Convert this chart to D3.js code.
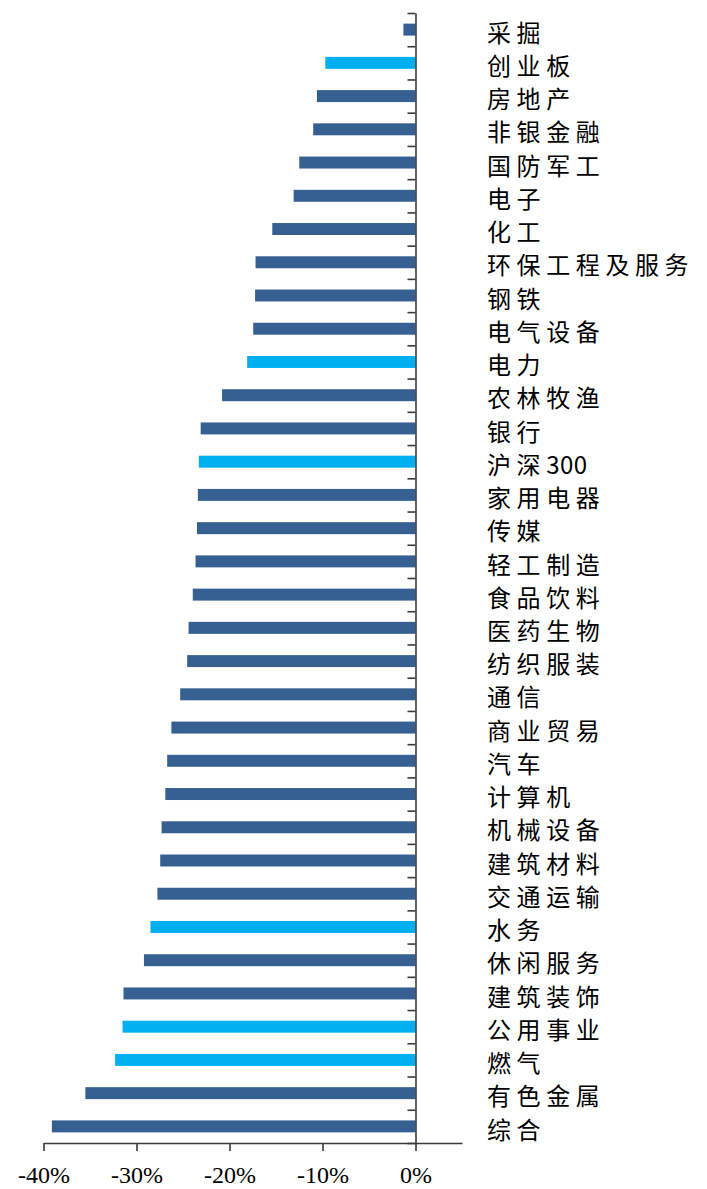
<!DOCTYPE html>
<html>
<head>
<meta charset="utf-8">
<script src="https://cdn.jsdelivr.net/npm/d3@7/dist/d3.min.js"></script>
<style>
  html, body { margin: 0; padding: 0; background: #ffffff; }
  svg { display: block; }
</style>
</head>
<body>
<svg id="chart" width="707" height="1189"></svg>
<script>
// Sector returns (%), ordered top to bottom
const categories = [
  "采掘", "创业板", "房地产", "非银金融", "国防军工", "电子", "化工",
  "环保工程及服务", "钢铁", "电气设备", "电力", "农林牧渔", "银行", "沪深300",
  "家用电器", "传媒", "轻工制造", "食品饮料", "医药生物", "纺织服装", "通信",
  "商业贸易", "汽车", "计算机", "机械设备", "建筑材料", "交通运输", "水务",
  "休闲服务", "建筑装饰", "公用事业", "燃气", "有色金属", "综合"
];
const values = [
  -1.3, -9.7, -10.6, -11.0, -12.5, -13.1, -15.4,
  -17.2, -17.25, -17.45, -18.1, -20.8, -23.1, -23.3,
  -23.4, -23.5, -23.65, -23.95, -24.4, -24.55, -25.3,
  -26.25, -26.7, -26.9, -27.3, -27.45, -27.75, -28.5,
  -29.2, -31.4, -31.5, -32.3, -35.5, -39.1
];
// Highlighted entries (index / utilities group) drawn in light blue
const highlighted = ["创业板", "电力", "沪深300", "水务", "公用事业", "燃气"];
const xTicks = [-40, -30, -20, -10, 0];
const xDomain = [-40, 5];

const svg = d3.select("#chart");
const axisColor = "#3a3a3a";
const darkBlue = "#366092";
const lightBlue = "#00b0f0";

const plotTop = 13, plotBottom = 1143, plotLeft = 43.5, plotRight = 462;

const x = d3.scaleLinear().domain(xDomain).range([plotLeft, plotRight]);

// Band scale for the bars, slot scale for band-boundary ticks
const y = d3.scaleBand()
  .domain(categories)
  .range([plotTop, plotBottom])
  .paddingInner(0.64)
  .paddingOuter(0.32);
const ySlots = d3.scaleLinear().domain([0, categories.length]).range([plotTop, plotBottom]);

// Bars
svg.append("g")
  .selectAll("rect")
  .data(categories.map((c, i) => ({ c, v: values[i] })))
  .join("rect")
  .attr("x", d => x(Math.min(0, d.v)))
  .attr("y", d => y(d.c))
  .attr("width", d => Math.abs(x(d.v) - x(0)))
  .attr("height", y.bandwidth())
  .attr("fill", d => highlighted.includes(d.c) ? lightBlue : darkBlue);

// X axis
const xAxis = svg.append("g")
  .attr("transform", `translate(0,${plotBottom})`)
  .call(d3.axisBottom(x).tickValues(xTicks).tickSize(8).tickPadding(15).tickSizeOuter(0)
    .tickFormat(d => d + "%"));
xAxis.attr("font-family", "'Liberation Serif', 'Times New Roman', serif").attr("font-size", 24);
xAxis.select(".domain").attr("stroke", axisColor).attr("stroke-width", 1.6);
xAxis.selectAll(".tick line").attr("stroke", axisColor).attr("stroke-width", 1.6);
xAxis.selectAll(".tick text")
  .attr("fill", "#000")
  .style("font-family", "'Liberation Serif', 'Times New Roman', serif")
  .style("font-size", "24px");

// Y axis at zero, ticks on the band boundaries
const yAxis = svg.append("g")
  .attr("transform", `translate(${x(0)},0)`)
  .call(d3.axisLeft(ySlots).tickValues(d3.range(categories.length + 1)).tickSize(8)
    .tickSizeOuter(0).tickFormat(""));
yAxis.select(".domain").attr("stroke", axisColor).attr("stroke-width", 1.6);
yAxis.selectAll(".tick line").attr("stroke", axisColor).attr("stroke-width", 1.6);

// Category labels on the right; CJK runs get wider tracking than Latin digits
const runs = s => s.match(/[\u3400-\u9fff]+|[^\u3400-\u9fff]+/g);
svg.append("g")
  .selectAll("text")
  .data(categories)
  .join("text")
  .attr("x", 487)
  .attr("y", d => y(d) + y.bandwidth() / 2 + 3)
  .attr("dy", "0.38em")
  .attr("fill", "#000")
  .style("font-family", "'Noto Sans CJK SC', sans-serif")
  .style("font-size", "24px")
  .each(function (d) {
    d3.select(this).selectAll("tspan")
      .data(runs(d))
      .join("tspan")
      .style("letter-spacing", r => /[\u3400-\u9fff]/.test(r) ? "5.6px" : "0.5px")
      .text(r => r);
  });
</script>
</body>
</html>
